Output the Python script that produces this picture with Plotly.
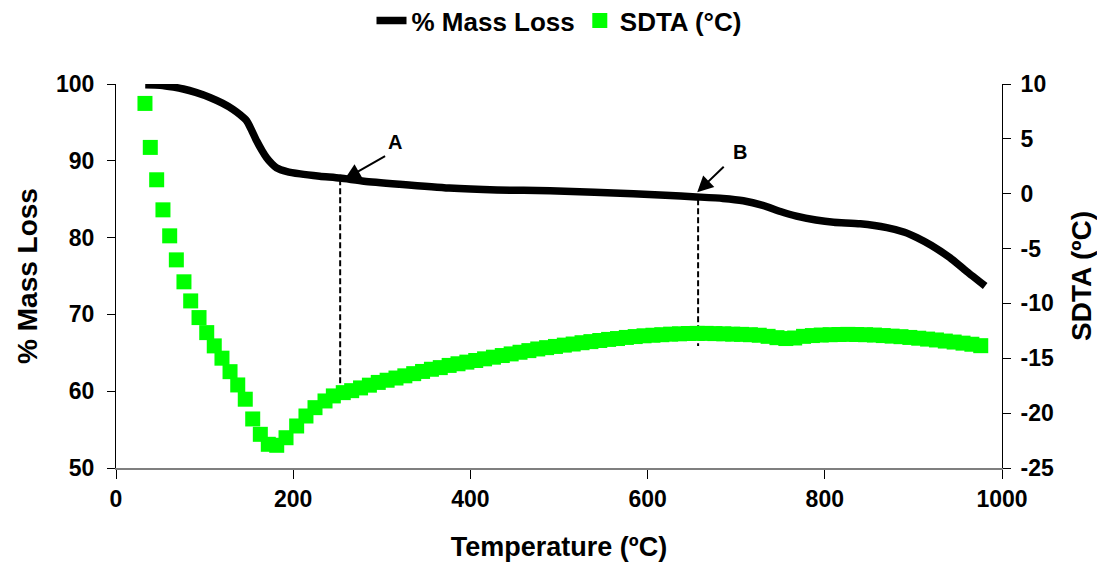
import plotly.graph_objects as go

# ---------------- data ----------------
mass_T = [33, 50, 65, 76, 90, 106, 120, 132, 140, 147.5, 153, 158.7, 165, 170, 176, 181,
          193, 208, 230, 253, 280, 320, 376, 430, 490, 540, 584, 620, 655, 685, 708, 730,
          750, 768, 790, 810, 840, 870, 890, 904, 920, 941, 960, 981]
mass_pct = [99.9, 99.85, 99.6, 99.35, 98.9, 98.25, 97.5, 96.7, 96.0, 95.2, 94.0, 92.6, 91.3,
            90.4, 89.6, 89.1, 88.6, 88.3, 88.0, 87.75, 87.35, 86.95, 86.45, 86.2, 86.1, 85.9,
            85.7, 85.5, 85.3, 85.1, 84.8, 84.2, 83.4, 82.8, 82.3, 82.0, 81.8, 81.3, 80.7, 80.0,
            79.0, 77.4, 75.6, 73.7]

sdta_T = [32.7, 38.7, 45.9, 53.0, 60.6, 68.1, 76.7, 84.3, 93.7, 102.4, 110.9, 119.6, 128.7,
          137.4, 145.9, 154.3, 162.9, 171.9, 181.4, 191.9, 203.9, 214.4, 224.6, 235.9, 245.3,
          256.5,
          266, 276, 286, 296, 306, 316, 326, 336, 346, 356, 366, 376, 386, 396, 406, 416, 426,
          436, 446, 456, 466, 476, 486, 496, 506, 516, 526, 536, 546, 556, 566, 576, 586, 596,
          606, 616, 626, 636, 646, 656, 666, 676, 686, 696, 706, 716, 726, 736, 746, 756, 766,
          776, 786, 796, 806, 816, 826, 836, 846, 856, 866, 876, 886, 896, 906, 916, 926, 936,
          946, 956, 966, 976]
sdta_C = [8.23, 4.22, 1.27, -1.47, -3.84, -6.03, -8.03, -9.77, -11.29, -12.66, -13.87, -14.99,
          -16.22, -17.43, -18.73, -20.53, -21.93, -22.84, -22.93, -22.24, -21.17, -20.26, -19.5,
          -18.89, -18.43, -18.13,
          -17.95, -17.7, -17.45, -17.2, -17.0, -16.8, -16.6, -16.4, -16.2, -16.0, -15.85, -15.65,
          -15.5, -15.35, -15.2, -15.05, -14.9, -14.75, -14.6, -14.45, -14.3, -14.15, -14.03,
          -13.92, -13.8, -13.7, -13.58, -13.48, -13.38, -13.28, -13.2, -13.1, -13.02, -12.95,
          -12.9, -12.85, -12.8, -12.77, -12.74, -12.73, -12.73, -12.75, -12.77, -12.8, -12.82,
          -12.85, -12.9, -13.0, -13.12, -13.2, -13.15, -13.0, -12.93, -12.88, -12.85, -12.83,
          -12.82, -12.83, -12.85, -12.88, -12.93, -12.98, -13.03, -13.1, -13.17, -13.25, -13.33,
          -13.43, -13.52, -13.62, -13.72, -13.85]

# reference points A and B
ref_labels = ["A", "B"]
ref_T = [253, 657]
ref_top = [87.6, 85.0]
ref_bottom = [59.0, 65.9]
ref_head_T = [258, 656]
ref_head_y = [87.6, 85.9]
ref_text_T = [315, 704]
ref_text_y = [92.4, 91.1]

x_ticks = [0, 200, 400, 600, 800, 1000]
y_left_ticks = [50, 60, 70, 80, 90, 100]
y_right_ticks = [-25, -20, -15, -10, -5, 0, 5, 10]
y_right_ticktext = ["-25", "-20", "-15", "-10", "-5", "0", "5", "10"]

x_range = [0, 1000]
y_left_range = [50, 100]
y_right_range = [-25, 10]

FONT = "Liberation Sans, Arial, sans-serif"

fig = go.Figure()

fig.add_trace(go.Scatter(
    x=mass_T, y=mass_pct, mode="lines", name="% Mass Loss",
    line=dict(color="black", width=7.5, shape="spline", smoothing=0.6),
))
fig.add_trace(go.Scatter(
    x=sdta_T, y=sdta_C, yaxis="y2", mode="markers", name="SDTA (°C)",
    marker=dict(symbol="square", size=15, color="#00FF00", line=dict(width=0)),
))

for i in range(len(ref_T)):
    fig.add_trace(go.Scatter(
        x=[ref_T[i], ref_T[i]], y=[ref_top[i], ref_bottom[i]], mode="lines",
        line=dict(color="black", width=2, dash="6px,3px"), showlegend=False,
        hoverinfo="skip",
    ))

annotations = []
arrow_offsets = [(42, -24), (28, -27)]
for i, lab in enumerate(ref_labels):
    annotations.append(dict(
        x=ref_head_T[i], y=ref_head_y[i], xref="x", yref="y", text="",
        showarrow=True, arrowhead=2, arrowsize=1.6, arrowwidth=2, arrowcolor="black",
        ax=arrow_offsets[i][0], ay=arrow_offsets[i][1], standoff=0,
    ))
    annotations.append(dict(
        x=ref_text_T[i], y=ref_text_y[i], xref="x", yref="y", text=lab,
        showarrow=False, font=dict(family=FONT, size=20, color="black", weight="bold"),
    ))

axis_font = dict(family=FONT, size=23, color="black", weight="bold")
xtitle_font = dict(family=FONT, size=27, color="black", weight="bold")
ytitle_font = dict(family=FONT, size=28, color="black", weight="bold")

fig.update_layout(
    width=1105, height=570,
    margin=dict(l=108, r=111, t=76, b=110, autoexpand=False),
    paper_bgcolor="white", plot_bgcolor="white",
    font=dict(family=FONT, color="black"),
    showlegend=True,
    legend=dict(orientation="h", x=0.5, xanchor="center", y=1.165, yanchor="middle",
                font=dict(family=FONT, size=26, color="black", weight="bold"),
                bgcolor="rgba(0,0,0,0)"),
    xaxis=dict(range=x_range, tickmode="array", tickvals=x_ticks,
               showgrid=False, zeroline=False, showline=True, linecolor="#7f7f7f", linewidth=2,
               ticks="outside", ticklen=9, tickwidth=1, tickcolor="black",
               tickfont=axis_font,
               title=dict(text="Temperature (ºC)", font=xtitle_font, standoff=27)),
    yaxis=dict(range=y_left_range, tickmode="array", tickvals=y_left_ticks,
               showgrid=False, zeroline=False, showline=True, linecolor="black", linewidth=1,
               ticks="outside", ticklen=8, tickwidth=1, tickcolor="black",
               ticklabelstandoff=8,
               tickfont=axis_font,
               title=dict(text="% Mass Loss", font=ytitle_font, standoff=10)),
    yaxis2=dict(range=y_right_range, tickmode="array", tickvals=y_right_ticks,
                ticktext=y_right_ticktext,
                overlaying="y", side="right", anchor="x",
                showgrid=False, zeroline=False, showline=True, linecolor="black", linewidth=1,
                ticks="outside", ticklen=8, tickwidth=1, tickcolor="black",
                ticklabelstandoff=5,
                tickfont=axis_font,
                title=dict(text="SDTA (ºC)", font=ytitle_font, standoff=18)),
    yaxis3=dict(range=y_right_range, tickmode="array", tickvals=y_right_ticks,
                overlaying="y", side="right", anchor="x",
                showgrid=False, zeroline=False, showline=False,
                ticks="inside", ticklen=9, tickwidth=1, tickcolor="black",
                showticklabels=False),
    annotations=annotations,
)

fig.write_html("out.html")
